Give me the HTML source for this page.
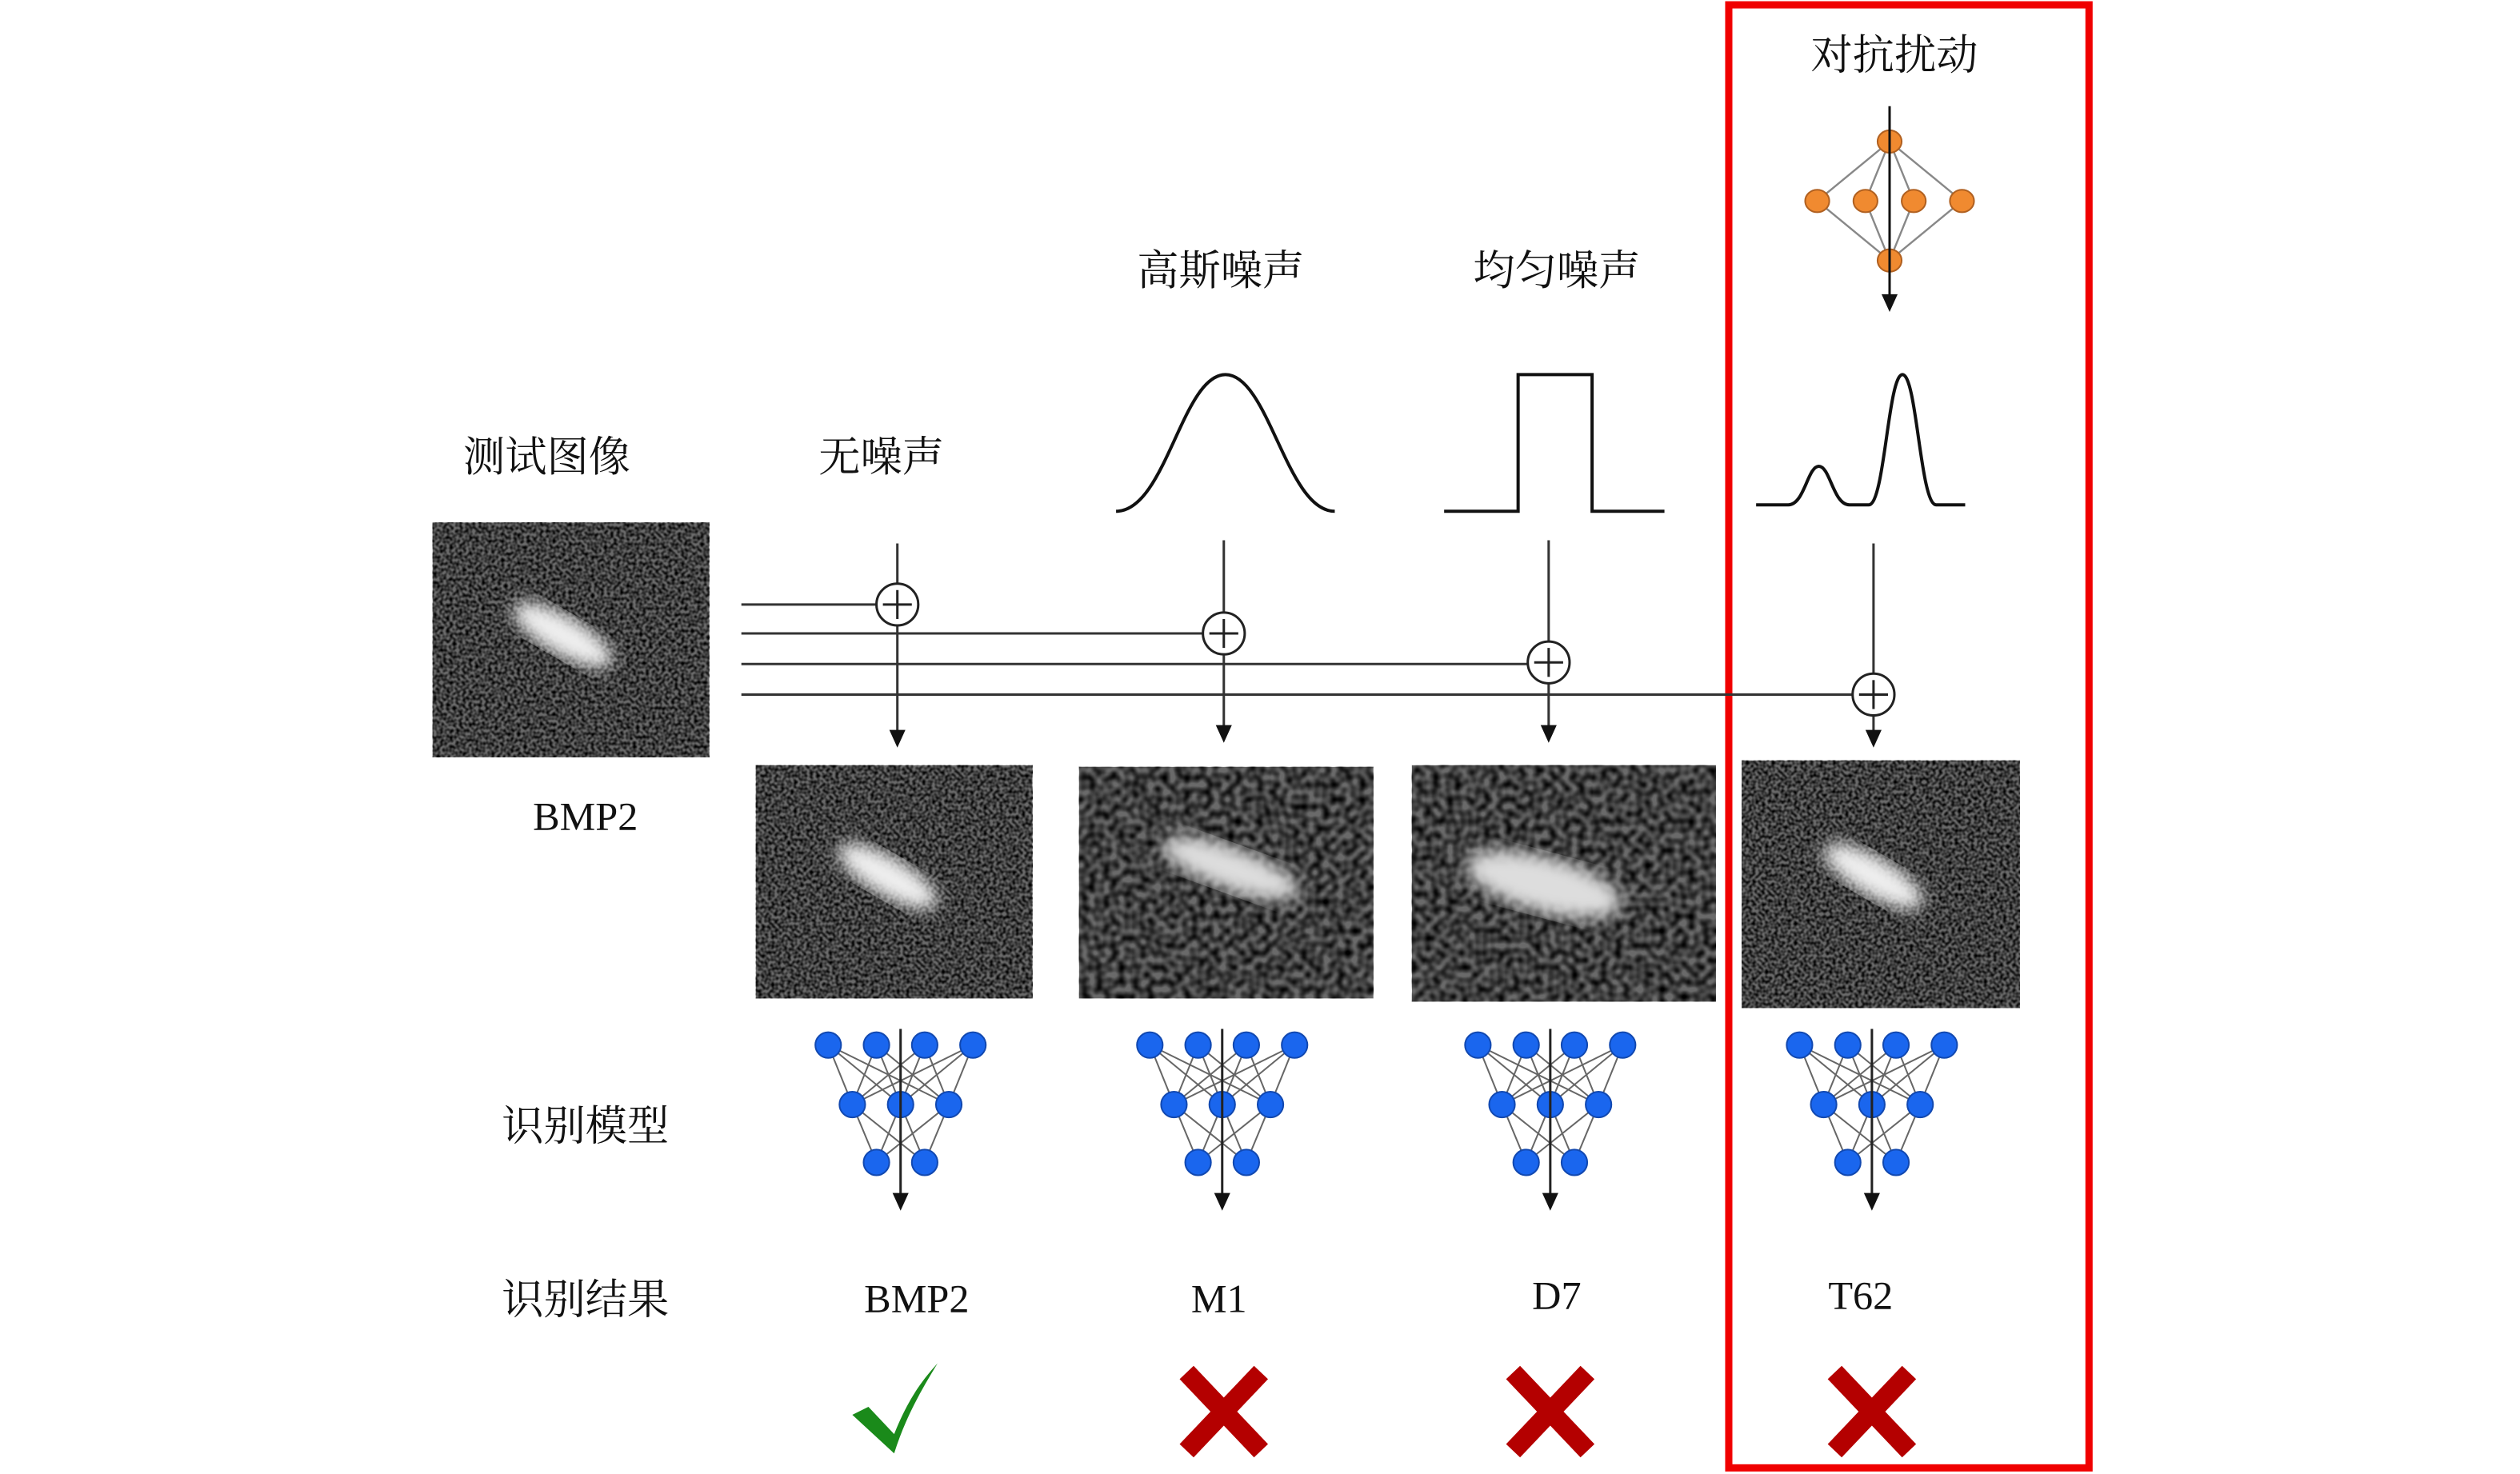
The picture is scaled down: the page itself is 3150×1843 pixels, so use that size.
<!DOCTYPE html>
<html><head><meta charset="utf-8"><style>
html,body{margin:0;padding:0;background:#fff;}
svg{display:block;}
.cj{font-family:"Liberation Serif","Noto Serif CJK SC",serif;font-size:26px;fill:#111;text-anchor:middle;}
.lt{font-family:"Liberation Serif",serif;font-size:25px;fill:#111;text-anchor:middle;}
</style></head><body>
<svg width="3150" height="1843" viewBox="0 0 1567 916.8" xmlns="http://www.w3.org/2000/svg">
<defs>
<filter id="nz" x="0" y="0" width="100%" height="100%">
<feTurbulence type="fractalNoise" baseFrequency="0.5" numOctaves="1" seed="3"/>
<feColorMatrix type="matrix" values="0 0 0 0 0  0 0 0 0 0  0 0 0 0 0  0 0 0 -2.2 1.5"/>
</filter>
<filter id="nz2" x="0" y="0" width="100%" height="100%">
<feTurbulence type="fractalNoise" baseFrequency="0.22" numOctaves="1" seed="7"/>
<feColorMatrix type="matrix" values="0 0 0 0 0  0 0 0 0 0  0 0 0 0 0  0 0 0 -2 1.4"/>
</filter>
<filter id="bl"><feGaussianBlur stdDeviation="5"/></filter>
</defs>

<rect x="1075" y="3" width="224" height="910" fill="none" stroke="#f00000" stroke-width="4.5"/>

<text class="cj" x="1178" y="43">对抗扰动</text>
<text class="cj" x="759" y="177">高斯噪声</text>
<text class="cj" x="968" y="177">均匀噪声</text>
<text class="cj" x="340" y="293">测试图像</text>
<text class="cj" x="548" y="293">无噪声</text>
<text class="lt" x="364" y="516">BMP2</text>
<text class="cj" x="364" y="709">识别模型</text>
<text class="cj" x="364" y="817">识别结果</text>
<text class="lt" x="570" y="816">BMP2</text>
<text class="lt" x="758" y="816">M1</text>
<text class="lt" x="968" y="814">D7</text>
<text class="lt" x="1157" y="814">T62</text>

<g stroke="#888" stroke-width="1.2">
<line x1="1175" y1="88" x2="1130" y2="125"/><line x1="1175" y1="88" x2="1160" y2="125"/><line x1="1175" y1="88" x2="1190" y2="125"/><line x1="1175" y1="88" x2="1220" y2="125"/>
<line x1="1175" y1="162" x2="1130" y2="125"/><line x1="1175" y1="162" x2="1160" y2="125"/><line x1="1175" y1="162" x2="1190" y2="125"/><line x1="1175" y1="162" x2="1220" y2="125"/>
</g>
<g fill="#f08a30" stroke="#b06020" stroke-width="1">
<ellipse cx="1175" cy="88" rx="7.5" ry="7"/><ellipse cx="1130" cy="125" rx="7.5" ry="7"/><ellipse cx="1160" cy="125" rx="7.5" ry="7"/><ellipse cx="1190" cy="125" rx="7.5" ry="7"/><ellipse cx="1220" cy="125" rx="7.5" ry="7"/><ellipse cx="1175" cy="162" rx="7.5" ry="7"/>
</g>
<line x1="1175" y1="66" x2="1175" y2="186" stroke="#111" stroke-width="1.5"/>
<path d="M1170,183 L1180,183 L1175,194 Z" fill="#111"/>

<g fill="none" stroke="#111" stroke-width="2">
<path d="M694,318 C725,318 735,233 762,233 C789,233 800,318 830,318"/>
<path d="M898,318 L944,318 L944,233 L990,233 L990,318 L1035,318"/>
<path d="M1092,314 L1112,314 C1122,314 1124,290 1131,290 C1138,290 1140,314 1150,314 L1162,314 C1172,314 1174,233 1183,233 C1192,233 1194,314 1204,314 L1222,314"/>
</g>

<rect x="269" y="325" width="172" height="146" fill="#6a6a6a"/>
<rect x="269" y="325" width="172" height="146" fill="#000" filter="url(#nz)"/>
<ellipse cx="350" cy="395" rx="35" ry="12" transform="rotate(30 350 395)" fill="#eee" filter="url(#bl)"/>

<g stroke="#333" stroke-width="1.5" fill="none">
<line x1="461" y1="376" x2="545" y2="376"/>
<line x1="461" y1="394" x2="748" y2="394"/>
<line x1="461" y1="413" x2="950" y2="413"/>
<line x1="461" y1="432" x2="1152" y2="432"/>
<line x1="558" y1="338" x2="558" y2="455"/>
<line x1="761" y1="336" x2="761" y2="455"/>
<line x1="963" y1="336" x2="963" y2="455"/>
<line x1="1165" y1="338" x2="1165" y2="455"/>
</g>
<g fill="#fff" stroke="#222" stroke-width="1.5">
<circle cx="558" cy="376" r="13"/><circle cx="761" cy="394" r="13"/><circle cx="963" cy="412" r="13"/><circle cx="1165" cy="432" r="13"/>
</g>
<g stroke="#222" stroke-width="1.5">
<line x1="549" y1="376" x2="567" y2="376"/><line x1="558" y1="367" x2="558" y2="385"/>
<line x1="752" y1="394" x2="770" y2="394"/><line x1="761" y1="385" x2="761" y2="403"/>
<line x1="954" y1="412" x2="972" y2="412"/><line x1="963" y1="403" x2="963" y2="421"/>
<line x1="1156" y1="432" x2="1174" y2="432"/><line x1="1165" y1="423" x2="1165" y2="441"/>
</g>
<g fill="#111">
<path d="M553,454 L563,454 L558,465 Z"/><path d="M756,451 L766,451 L761,462 Z"/><path d="M958,451 L968,451 L963,462 Z"/><path d="M1160,454 L1170,454 L1165,465 Z"/>
</g>

<rect x="470" y="476" width="172" height="145" fill="#6a6a6a"/>
<rect x="470" y="476" width="172" height="145" fill="#000" filter="url(#nz)"/>
<ellipse cx="552" cy="545" rx="35" ry="12" transform="rotate(30 552 545)" fill="#eee" filter="url(#bl)"/>

<rect x="671" y="477" width="183" height="144" fill="#6a6a6a"/>
<rect x="671" y="477" width="183" height="144" fill="#000" filter="url(#nz2)"/>
<ellipse cx="765" cy="540" rx="45" ry="13" transform="rotate(20 765 540)" fill="#ddd" filter="url(#bl)"/>

<rect x="878" y="476" width="189" height="147" fill="#6a6a6a"/>
<rect x="878" y="476" width="189" height="147" fill="#000" filter="url(#nz2)"/>
<ellipse cx="960" cy="550" rx="50" ry="17" transform="rotate(15 960 550)" fill="#ddd" filter="url(#bl)"/>

<rect x="1083" y="473" width="173" height="154" fill="#6a6a6a"/>
<rect x="1083" y="473" width="173" height="154" fill="#000" filter="url(#nz)"/>
<ellipse cx="1165" cy="545" rx="35" ry="12" transform="rotate(30 1165 545)" fill="#eee" filter="url(#bl)"/>

<g id="bn">
<g stroke="#666" stroke-width="1">
<path d="M515,650 L530,687 M515,650 L560,687 M515,650 L590,687 M545,650 L530,687 M545,650 L560,687 M545,650 L590,687 M575,650 L530,687 M575,650 L560,687 M575,650 L590,687 M605,650 L530,687 M605,650 L560,687 M605,650 L590,687 M530,687 L545,723 M530,687 L575,723 M560,687 L545,723 M560,687 L575,723 M590,687 L545,723 M590,687 L575,723"/>
</g>
<g fill="#1a66ee" stroke="#1148b0" stroke-width="1">
<circle cx="515" cy="650" r="8"/><circle cx="545" cy="650" r="8"/><circle cx="575" cy="650" r="8"/><circle cx="605" cy="650" r="8"/>
<circle cx="530" cy="687" r="8"/><circle cx="560" cy="687" r="8"/><circle cx="590" cy="687" r="8"/>
<circle cx="545" cy="723" r="8"/><circle cx="575" cy="723" r="8"/>
</g>
<line x1="560" y1="640" x2="560" y2="745" stroke="#222" stroke-width="1.5"/>
<path d="M555,742 L565,742 L560,753 Z" fill="#111"/>
</g>
<use href="#bn" x="200"/>
<use href="#bn" x="404"/>
<use href="#bn" x="604"/>

<path d="M530,880 L540,875 L556,892 C564,872 572,860 583,848 C572,866 563,882 556,904 Z" fill="#1a8a1a"/>
<g stroke="#b40000" stroke-width="12" stroke-linecap="square">
<path d="M742,858 L780,898 M780,858 L742,898"/>
<path d="M945,858 L983,898 M983,858 L945,898"/>
<path d="M1145,858 L1183,898 M1183,858 L1145,898"/>
</g>
</svg>
</body></html>
